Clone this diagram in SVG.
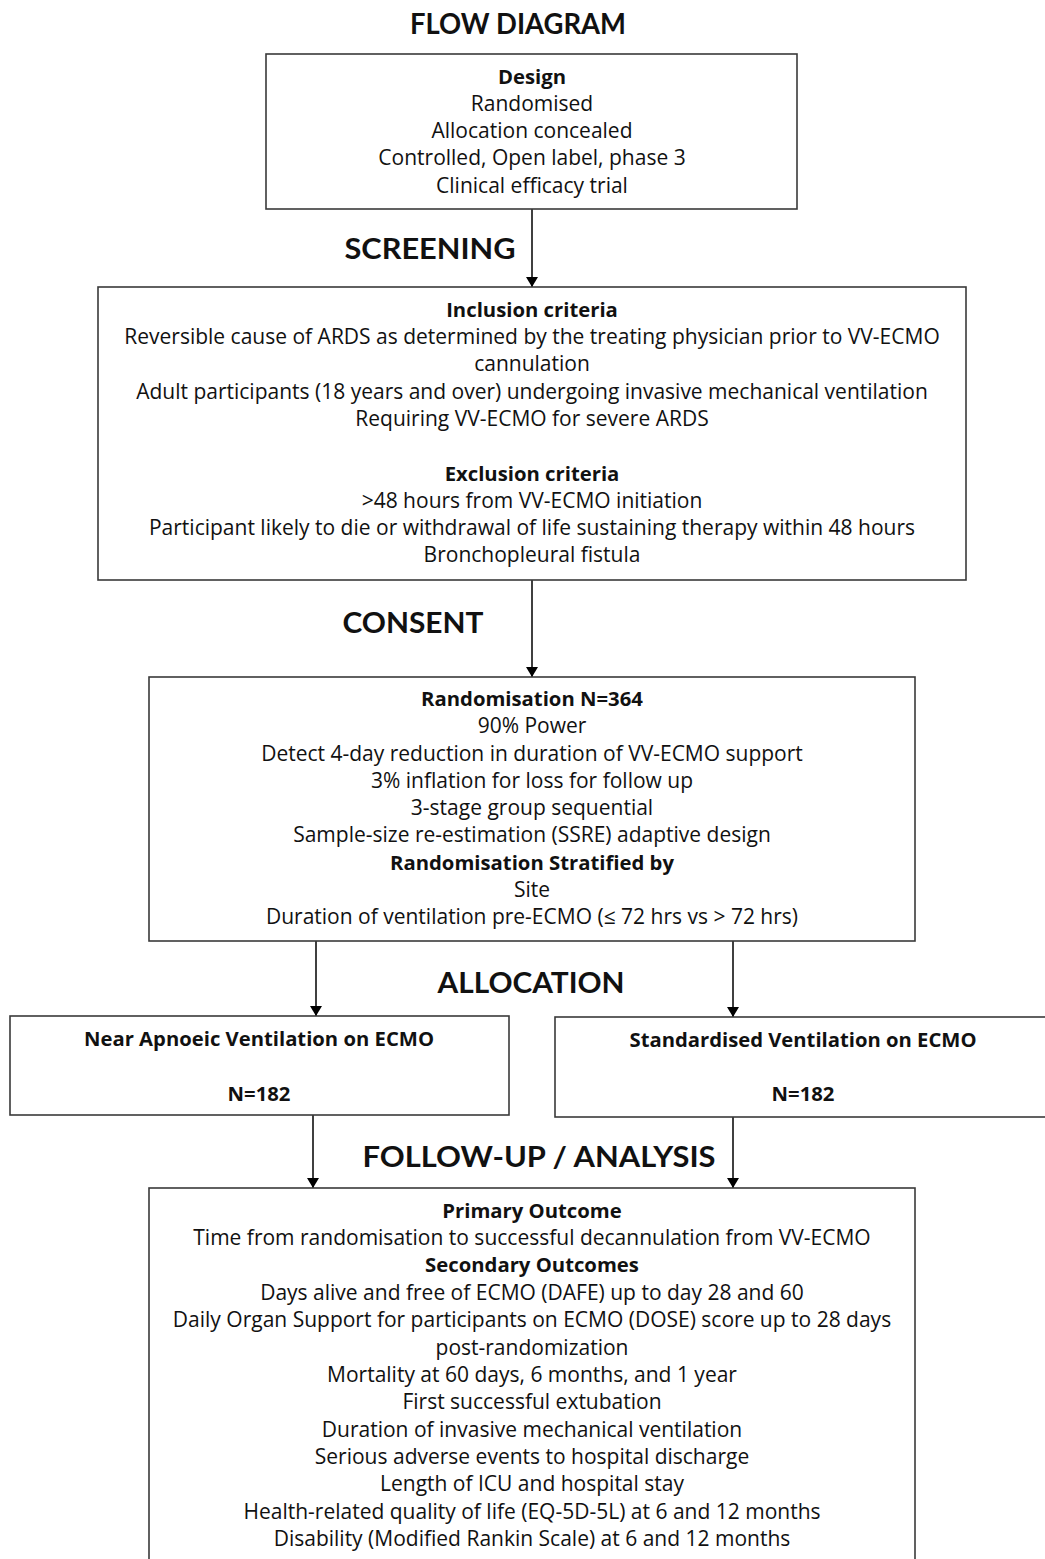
<svg xmlns="http://www.w3.org/2000/svg" width="1045" height="1559" viewBox="0 0 1045 1559">
<defs>
<marker id="ah" markerWidth="10" markerHeight="12" refX="10" refY="6" orient="auto" markerUnits="userSpaceOnUse">
<path d="M0,0 L10,6 L0,12 Z" fill="#000"/>
</marker>
<style>
.box{fill:#fff;stroke:#3a3a3a;stroke-width:1.6}
.t{font-family:"Open Sans","Liberation Sans",sans-serif;font-size:21px;fill:#111;text-anchor:middle}
.b{font-weight:bold;font-size:20.3px}
.h{font-family:Lato,"Liberation Sans",sans-serif;font-size:29px;font-weight:bold;fill:#111;text-anchor:middle}
.c{stroke:#000;stroke-width:1.5;fill:none}
</style>
</defs>
<rect width="1045" height="1559" fill="#fff"/>
<g id="headers">
<text class="h" x="518" y="34" textLength="216" lengthAdjust="spacingAndGlyphs">FLOW DIAGRAM</text>
<text class="h" x="430" y="259" textLength="171" lengthAdjust="spacingAndGlyphs">SCREENING</text>
<text class="h" x="413" y="633" textLength="141" lengthAdjust="spacingAndGlyphs">CONSENT</text>
<text class="h" x="531" y="993" textLength="187" lengthAdjust="spacingAndGlyphs">ALLOCATION</text>
<text class="h" x="539" y="1167" textLength="353" lengthAdjust="spacingAndGlyphs">FOLLOW-UP / ANALYSIS</text>
</g>
<g id="connectors">
<line class="c" x1="532" y1="209" x2="532" y2="287" marker-end="url(#ah)"/>
<line class="c" x1="532" y1="580" x2="532" y2="677" marker-end="url(#ah)"/>
<line class="c" x1="316" y1="941" x2="316" y2="1016" marker-end="url(#ah)"/>
<line class="c" x1="733" y1="941" x2="733" y2="1017" marker-end="url(#ah)"/>
<line class="c" x1="313" y1="1115" x2="313" y2="1188" marker-end="url(#ah)"/>
<line class="c" x1="733" y1="1117" x2="733" y2="1188" marker-end="url(#ah)"/>
</g>
<g id="design">
<rect class="box" x="266" y="54" width="531" height="155"/>
<text class="t b" x="532" y="84">Design</text>
<text class="t" x="532" y="111">Randomised</text>
<text class="t" x="532" y="138">Allocation concealed</text>
<text class="t" x="532" y="165">Controlled, Open label, phase 3</text>
<text class="t" x="532" y="193">Clinical efficacy trial</text>
</g>
<g id="screening">
<rect class="box" x="98" y="287" width="868" height="293"/>
<text class="t b" x="532" y="317">Inclusion criteria</text>
<text class="t" x="532" y="344">Reversible cause of ARDS as determined by the treating physician prior to VV-ECMO</text>
<text class="t" x="532" y="371">cannulation</text>
<text class="t" x="532" y="399">Adult participants (18 years and over) undergoing invasive mechanical ventilation</text>
<text class="t" x="532" y="426">Requiring VV-ECMO for severe ARDS</text>
<text class="t b" x="532" y="481">Exclusion criteria</text>
<text class="t" x="532" y="508">&gt;48 hours from VV-ECMO initiation</text>
<text class="t" x="532" y="535">Participant likely to die or withdrawal of life sustaining therapy within 48 hours</text>
<text class="t" x="532" y="562">Bronchopleural fistula</text>
</g>
<g id="randomisation">
<rect class="box" x="149" y="677" width="766" height="264"/>
<text class="t b" x="532" y="706">Randomisation N=364</text>
<text class="t" x="532" y="733">90% Power</text>
<text class="t" x="532" y="761">Detect 4-day reduction in duration of VV-ECMO support</text>
<text class="t" x="532" y="788">3% inflation for loss for follow up</text>
<text class="t" x="532" y="815">3-stage group sequential</text>
<text class="t" x="532" y="842">Sample-size re-estimation (SSRE) adaptive design</text>
<text class="t b" x="532" y="870">Randomisation Stratified by</text>
<text class="t" x="532" y="897">Site</text>
<text class="t" x="532" y="924">Duration of ventilation pre-ECMO (≤ 72 hrs vs &gt; 72 hrs)</text>
</g>
<g id="arm-near-apnoeic">
<rect class="box" x="10" y="1016" width="499" height="99"/>
<text class="t b" x="259" y="1046" textLength="350" lengthAdjust="spacingAndGlyphs">Near Apnoeic Ventilation on ECMO</text>
<text class="t b" x="259" y="1101">N=182</text>
</g>
<g id="arm-standardised">
<rect class="box" x="555" y="1017" width="500" height="100"/>
<text class="t b" x="803" y="1047" textLength="347" lengthAdjust="spacingAndGlyphs">Standardised Ventilation on ECMO</text>
<text class="t b" x="803" y="1101">N=182</text>
</g>
<g id="outcomes">
<rect class="box" x="149" y="1188" width="766" height="390"/>
<text class="t b" x="532" y="1218">Primary Outcome</text>
<text class="t" x="532" y="1245">Time from randomisation to successful decannulation from VV-ECMO</text>
<text class="t b" x="532" y="1272">Secondary Outcomes</text>
<text class="t" x="532" y="1300">Days alive and free of ECMO (DAFE) up to day 28 and 60</text>
<text class="t" x="532" y="1327">Daily Organ Support for participants on ECMO (DOSE) score up to 28 days</text>
<text class="t" x="532" y="1355">post-randomization</text>
<text class="t" x="532" y="1382">Mortality at 60 days, 6 months, and 1 year</text>
<text class="t" x="532" y="1409">First successful extubation</text>
<text class="t" x="532" y="1437">Duration of invasive mechanical ventilation</text>
<text class="t" x="532" y="1464">Serious adverse events to hospital discharge</text>
<text class="t" x="532" y="1491">Length of ICU and hospital stay</text>
<text class="t" x="532" y="1519">Health-related quality of life (EQ-5D-5L) at 6 and 12 months</text>
<text class="t" x="532" y="1546">Disability (Modified Rankin Scale) at 6 and 12 months</text>
</g>
</svg>
